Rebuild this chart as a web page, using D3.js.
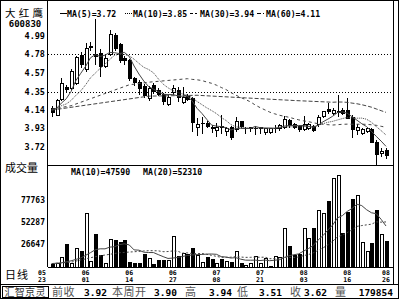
<!DOCTYPE html>
<html><head><meta charset="utf-8">
<script src="https://cdn.jsdelivr.net/npm/d3@7"></script>
<style>
html,body{margin:0;padding:0;background:#fff;}
svg{display:block;}
</style></head><body>
<svg id="c" width="400" height="300"></svg>
<script>
// ---- data (daily bars, 2005-05-23 .. 2005-08-26) ----
const open  = [4.16,4.08,4.26,4.40,4.39,4.45,4.77,4.60,4.86,4.78, 4.79,4.64,4.78,5.00,4.89,4.73,4.71,4.50,4.46,4.41, 4.27,4.42,4.37,4.32,4.20,4.34,4.36,4.23,4.30,4.27, 3.94,3.99,3.99,3.94,3.91,3.95,3.90,3.94,3.92,4.01, 3.93,3.93,3.93,3.93,3.88,3.88,3.93,3.93,3.94,4.02, 3.97,3.95,3.92,3.93,3.95,3.97,4.07,4.15,4.10,4.12, 4.13,4.13,4.05,3.91,3.87,3.90,3.92,3.77,3.64,3.68];
const high  = [4.19,4.27,4.51,4.43,4.61,4.76,4.81,4.91,4.92,5.19, 4.84,4.77,5.06,5.02,4.91,4.76,4.73,4.52,4.49,4.44, 4.42,4.45,4.39,4.34,4.31,4.43,4.40,4.40,4.33,4.29, 4.05,4.06,4.02,3.97,3.99,4.08,3.95,3.96,4.06,4.02, 3.95,3.95,3.96,3.95,3.93,3.93,3.97,3.98,4.07,4.04, 3.99,3.97,4.07,3.99,3.97,4.08,4.13,4.22,4.16,4.31, 4.16,4.28,4.08,3.98,3.94,3.94,3.94,3.80,3.71,3.71];
const low   = [4.06,4.07,4.24,4.34,4.37,4.43,4.62,4.58,4.82,4.66, 4.52,4.62,4.76,4.82,4.68,4.66,4.47,4.42,4.31,4.28, 4.24,4.32,4.30,4.20,4.19,4.31,4.23,4.21,4.24,3.89, 3.84,3.87,3.93,3.88,3.83,3.86,3.84,3.80,3.89,3.94, 3.87,3.89,3.85,3.87,3.85,3.86,3.88,3.90,3.92,3.94, 3.92,3.89,3.90,3.91,3.89,3.95,4.05,4.10,4.08,4.06, 4.08,4.04,3.82,3.85,3.85,3.88,3.76,3.51,3.60,3.58];
const close = [4.11,4.25,4.45,4.38,4.58,4.74,4.66,4.85,4.87,4.76, 4.64,4.73,5.01,4.85,4.71,4.71,4.50,4.46,4.39,4.31, 4.39,4.35,4.32,4.24,4.29,4.39,4.28,4.29,4.26,4.00, 3.97,3.99,3.95,3.93,3.94,3.94,3.93,3.82,4.01,3.95, 3.93,3.94,3.93,3.94,3.93,3.93,3.93,3.96,4.03,3.96, 3.94,3.92,3.97,3.97,3.91,4.06,4.12,4.12,4.14,4.12, 4.10,4.04,3.92,3.94,3.92,3.93,3.77,3.63,3.67,3.62];
const volume = [3500,4600,12000,26700,5000,22000,18900,62300,7300,38300, 13900,4300,32100,31300,29400,31300,6200,4300,4300,14700, 10100,4000,8100,8100,8100,36000,12800,16200,15000,21700, 13900,5800,12000,9300,4600,9300,7000,5800,18900,4600, 2300,5000,12800,4600,10400,1500,12800,11600,45300,24400, 13900,15100,45300,34000,45600,66000,63000,77000,103500,107000, 40000,64200,78900,83500,29400,18000,28000,66000,38000,29854];

const ma5Head  = [4.14,4.16,4.22,4.27];
const ma10Head = [4.15,4.16,4.19,4.21,4.25,4.31,4.36,4.43,4.51];
const ma30HeadIdx = [0,4,8,12,16,20,24,28];
const ma30Head    = [4.15,4.19,4.27,4.35,4.43,4.46,4.48,4.50];
const ma60HeadIdx = [0,10,20,30,40,50,58];
const ma60Head    = [4.14,4.22,4.30,4.31,4.28,4.25,4.23];
const vol10HeadIdx = [0,2,4,6,8];
const vol10Head    = [3950,4810,7180,10470,16630];
const vol20HeadIdx = [0,4,9,14,18];
const vol20Head    = [3975,5590,12030,16580,18085];

const dateIdx = [0,7,16,25,34,43,52,61,69];
const dateMon = ["05","06","06","06","07","07","08","08","08"];
const dateDay = ["23","01","14","27","08","21","03","16","26"];
const priceTicks = [4.99,4.78,4.57,4.35,4.14,3.93,3.72];
const priceGrid  = [4.78,4.35];
const volTicks   = [77763,52287,26647];
const maNames  = ["MA(5)","MA(10)","MA(30)","MA(60)"];
const maValues = ["3.72","3.85","3.94","4.11"];
const volMaNames  = ["MA(10)","MA(20)"];
const volMaValues = ["47590","52310"];
const statusLabels = ["前收","本周开","高","低","收","量"];
const statusValues = ["3.92","3.90","3.94","3.51","3.62","179854"];

// ---- drawing ----
const svg = d3.select("#c");
const mono = "'DejaVu Sans Mono', monospace";
const cjk = "'Noto Sans CJK SC', sans-serif";

const L = 47.5, R = 393.5;
const x  = d3.scaleLinear().domain([0, 69]).range([51.7, 386]);
const yP = d3.scaleLinear().domain([3.72, 4.99]).range([146.7, 36]);
const yV = d3.scaleLinear().domain([0, 77763]).range([267, 200]);
const px = i => Math.round(x(i));

// frame
const frame = svg.append("g").attr("fill","none").attr("stroke","#000").attr("shape-rendering","crispEdges");
frame.append("rect").attr("x",0.5).attr("y",0.5).attr("width",398).attr("height",298);
frame.append("line").attr("x1",R).attr("x2",R).attr("y1",1).attr("y2",284);
frame.append("line").attr("x1",L).attr("x2",L).attr("y1",1).attr("y2",267);
frame.append("line").attr("x1",L).attr("x2",R).attr("y1",165.5).attr("y2",165.5);
frame.append("line").attr("x1",L).attr("x2",R).attr("y1",267.5).attr("y2",267.5);
frame.append("line").attr("x1",0).attr("x2",399).attr("y1",284.5).attr("y2",284.5);
frame.append("rect").attr("x",2.5).attr("y",286.5).attr("width",46).attr("height",11);

// grid
svg.append("g").selectAll("line").data(priceGrid).join("line")
  .attr("x1",L).attr("x2",R)
  .attr("y1",d=>Math.round(yP(d))+0.5).attr("y2",d=>Math.round(yP(d))+0.5)
  .attr("stroke","#000").attr("stroke-dasharray","1,2").attr("shape-rendering","crispEdges");

// candles
const idx = d3.range(close.length);
const cg = svg.append("g").attr("shape-rendering","crispEdges");
cg.selectAll("line").data(idx).join("line")
  .attr("x1",i=>px(i)+0.5).attr("x2",i=>px(i)+0.5)
  .attr("y1",i=>yP(high[i])).attr("y2",i=>yP(low[i]))
  .attr("stroke","#000");
cg.selectAll("rect").data(idx).join("rect")
  .attr("x",i=>px(i)-1).attr("width",3)
  .attr("y",i=>yP(Math.max(open[i],close[i])))
  .attr("height",i=>Math.max(0.5, Math.abs(yP(open[i])-yP(close[i]))))
  .attr("fill",i=>close[i]>=open[i]?"#fff":"#000")
  .attr("stroke","#000");

// moving averages
function movAvg(arr, n, headIdx, headVal){
  const pts = headIdx.map((k,j)=>[k, headVal[j]]);
  for(let i=n-1;i<arr.length;i++){
    pts.push([i, d3.mean(arr.slice(i-n+1,i+1))]);
  }
  return pts;
}
const maStyles = [null,"1,1","3,3","4,2"];
const maSeries = [
  movAvg(close,5,d3.range(4),ma5Head),
  movAvg(close,10,d3.range(9),ma10Head),
  movAvg(close,30,ma30HeadIdx,ma30Head),
  movAvg(close,60,ma60HeadIdx,ma60Head)
];
const lineP = d3.line().x(d=>x(d[0])).y(d=>yP(d[1]));
maSeries.forEach((s,k)=>{
  svg.append("path").attr("d",lineP(s)).attr("fill","none")
    .attr("stroke","#444").attr("stroke-width",1)
    .attr("stroke-dasharray",maStyles[k]);
});

// volume bars
const vg = svg.append("g").attr("shape-rendering","crispEdges");
vg.selectAll("rect").data(idx).join("rect")
  .attr("x",i=>px(i)-1).attr("width",3)
  .attr("y",i=>Math.round(yV(volume[i])))
  .attr("height",i=>Math.round(yV(0))-Math.round(yV(volume[i])))
  .attr("fill",i=>close[i]>=open[i]?"#fff":"#000")
  .attr("stroke","#000");

const lineV = d3.line().x(d=>x(d[0])).y(d=>yV(d[1]));
[movAvg(volume,10,vol10HeadIdx,vol10Head), movAvg(volume,20,vol20HeadIdx,vol20Head)].forEach((s,k)=>{
  svg.append("path").attr("d",lineV(s)).attr("fill","none")
    .attr("stroke","#444").attr("stroke-width",1)
    .attr("stroke-dasharray",k?"2,2":null);
});

// texts
svg.append("text").attr("x",5).attr("y",16.5).attr("font-family",cjk).attr("font-size",10.5)
  .attr("letter-spacing",3.2).text("大红鹰");
svg.append("text").attr("x",25).attr("y",26.5).attr("text-anchor","middle").attr("font-family",mono)
  .attr("font-weight","bold").attr("font-size",9).text("600830");

svg.append("g").selectAll("text").data(priceTicks).join("text")
  .attr("x",45).attr("y",d=>yP(d)+3).attr("text-anchor","end")
  .attr("font-family",mono).attr("font-weight","bold").attr("font-size",8.5).text(d=>d.toFixed(2));

svg.append("g").selectAll("text").data(volTicks).join("text")
  .attr("x",45).attr("y",d=>yV(d)+3).attr("text-anchor","end")
  .attr("font-family",mono).attr("font-weight","bold").attr("font-size",8).text(d=>d);

// MA legend
const legX = [60,125,190,257];
const legTX = [67,133,200,266];
maNames.forEach((n,k)=>{
  const g = svg.append("g");
  g.append("line").attr("x1",legX[k]).attr("x2",legX[k]+7).attr("y1",13.5).attr("y2",13.5)
    .attr("stroke","#000").attr("stroke-dasharray",k===2?"3,2":maStyles[k]);
  g.append("text").attr("x",legTX[k]).attr("y",17).attr("font-family",mono).attr("font-weight","bold")
    .attr("font-size",8.2).text(n+"="+maValues[k]);
});
const vLegX = [71,143];
volMaNames.forEach((n,k)=>{
  svg.append("text").attr("x",vLegX[k]).attr("y",175).attr("font-family",mono).attr("font-weight","bold")
    .attr("font-size",8.2).text(n+"="+volMaValues[k]);
});

svg.append("text").attr("x",5).attr("y",172).attr("font-family",cjk).attr("font-size",11).text("成交量");
svg.append("text").attr("x",5).attr("y",279).attr("font-family",cjk).attr("font-size",11)
  .attr("letter-spacing",1).text("日线");

// date labels
const dg = svg.append("g").attr("font-family",mono).attr("font-weight","bold").attr("font-size",6.5).attr("text-anchor","middle");
dateIdx.forEach((d,k)=>{
  const cx = k===0 ? L-5.5 : x(d);
  dg.append("text").attr("x",cx).attr("y",275).text(dateMon[k]);
  dg.append("text").attr("x",cx).attr("y",281.5).text(dateDay[k]);
});

// status bar
svg.append("text").attr("x",4.5).attr("y",296).attr("font-family",cjk).attr("font-size",10)
  .attr("letter-spacing",0.3).attr("fill","#333").text("汇智京灵");
const sLabX = [52,112,185,237,290,335];
const sValX = [107,177,232,282,327,393];
statusLabels.forEach((s,k)=>{
  svg.append("text").attr("x",sLabX[k]).attr("y",296).attr("font-family",cjk).attr("font-size",11)
    .attr("fill","#555").attr("letter-spacing",s.length>1?0.5:0).text(s);
  svg.append("text").attr("x",sValX[k]).attr("y",296).attr("text-anchor","end").attr("font-family",mono)
    .attr("font-weight","bold").attr("font-size",9.5).text(statusValues[k]);
});
</script>
</body></html>
